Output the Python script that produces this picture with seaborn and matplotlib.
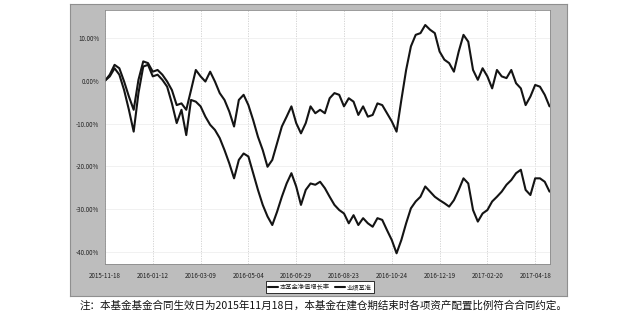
import matplotlib
matplotlib.use("Agg")
import matplotlib.pyplot as plt
from matplotlib.patches import Rectangle
import numpy as np
import pandas as pd
import seaborn as sns

# ---- data (cumulative return, %) ----
fund = [0.0, 1.4, 3.7, 2.9, -0.2, -3.7, -6.8, 0.2, 4.5, 4.1,
        2.1, 2.5, 1.4, -0.2, -2.2, -5.7, -5.3, -6.8, -2.2, 2.5,
        1.0, -0.2, 2.1, -0.2, -2.9, -4.5, -7.2, -10.7, -4.5, -3.3,
        -5.7, -9.2, -13.1, -16.2, -20.1, -18.5, -14.6, -10.7, -8.4, -6.0,
        -9.9, -12.3, -9.9, -6.0, -7.6, -6.8, -7.6, -4.1, -2.9, -3.3,
        -6.0, -4.1, -4.9, -8.0, -6.0, -8.4, -8.0, -5.3, -5.7, -7.6,
        -9.5, -11.9, -4.5, 2.5, 8.0, 10.7, 11.1, 13.0, 11.9, 11.1,
        6.8, 4.9, 4.1, 2.1, 6.8, 10.7, 9.1, 2.5, 0.2, 2.9,
        1.0, -1.8, 2.5, 1.0, 0.6, 2.5, -0.6, -1.8, -5.7, -3.7,
        -1.0, -1.4, -3.3, -6.0]
bench = [0.0, 1.0, 2.9, 1.4, -2.2, -6.8, -11.9, -2.9, 3.3, 3.7,
         1.0, 1.4, 0.2, -1.4, -5.3, -9.9, -6.8, -12.7, -4.5, -4.9,
         -6.0, -8.4, -10.3, -11.5, -13.4, -16.2, -19.3, -22.8, -18.5, -17.0,
         -17.7, -21.6, -25.5, -29.0, -31.7, -33.7, -30.6, -27.1, -24.0, -21.6,
         -24.7, -29.0, -25.5, -24.0, -24.3, -23.6, -25.1, -27.1, -29.0, -30.2,
         -31.0, -33.3, -31.4, -33.7, -32.1, -33.3, -34.1, -32.1, -32.5, -34.9,
         -37.2, -40.3, -37.2, -33.3, -29.8, -28.2, -27.1, -24.7, -25.9, -27.1,
         -27.9, -28.6, -29.4, -27.9, -25.5, -22.8, -24.0, -30.2, -32.9, -31.0,
         -30.2, -28.2, -27.1, -25.9, -24.3, -23.2, -21.6, -20.8, -25.5, -26.7,
         -22.8, -22.8, -23.6, -25.9]
x_tick_labels = ["2015-11-18", "2016-01-12", "2016-03-09", "2016-05-04",
                 "2016-06-29", "2016-08-23", "2016-10-24", "2016-12-19",
                 "2017-02-20", "2017-04-18"]
y_ticks = [10, 0, -10, -20, -30, -40]
series_names = ["本基金净值增长率", "业绩基准"]
caption = "注：本基金基金合同生效日为2015年11月18日，本基金在建仓期结束时各项资产配置比例符合合同约定。"

sns.set_theme(style="white")
plt.rcParams["font.family"] = ["Noto Sans CJK SC", "DejaVu Sans"]

df = pd.DataFrame({"idx": np.arange(len(fund)),
                   series_names[0]: fund,
                   series_names[1]: bench}).melt("idx", var_name="series",
                                                 value_name="value")

W, H = 629, 313
fig = plt.figure(figsize=(W / 100, H / 100), dpi=100)
fig.patch.set_facecolor("white")

# grey panel behind the plot
bg = fig.add_axes([70 / W, 1 - 296 / H, (567 - 70) / W, (296 - 4) / H], zorder=-5)
bg.set_facecolor("#bdbdbd")
bg.set_xticks([])
bg.set_yticks([])
for s in bg.spines.values():
    s.set_color("#8f8f8f")
    s.set_linewidth(0.8)

ax = fig.add_axes([105 / W, 1 - 264 / H, 445 / W, 254 / H], zorder=1)
ax.set_facecolor("white")
sns.lineplot(data=df, x="idx", y="value", hue="series",
             palette=["#141414", "#141414"], linewidth=1.5, ax=ax)

ax.set_xlim(0, 93.1)
ax.set_ylim(-42.8, 16.5)
ax.set_xticks(np.arange(0, 91, 10))
ax.set_xticklabels(x_tick_labels)
ax.set_yticks(y_ticks)
ax.set_yticklabels([f"{v:.2f}%" for v in y_ticks])
ax.tick_params(axis="both", labelsize=4.5, length=2.5, width=0.5,
               colors="#222222", pad=1.5, direction="out")
ax.tick_params(axis="x", pad=3)
ax.set_xlabel("")
ax.set_ylabel("")
ax.grid(axis="x", color="#cfcfcf", linestyle=(0, (1.5, 1.5)), linewidth=0.6)
ax.grid(axis="y", color="#ececec", linestyle="-", linewidth=0.5)
for s in ax.spines.values():
    s.set_color("#8a8a8a")
    s.set_linewidth(0.6)

handles, labels = ax.get_legend_handles_labels()
ax.legend(handles, labels, loc="center", bbox_to_anchor=(320 / W, 1 - 287 / H),
          bbox_transform=fig.transFigure, ncol=2, fontsize=4.5, frameon=True,
          fancybox=False, edgecolor="#111111", framealpha=1, handlelength=1.6,
          handletextpad=0.3, columnspacing=0.8, borderpad=0.35)
ax.get_legend().get_frame().set_linewidth(0.6)

fig.text(80 / W, 1 - 305 / H, caption, fontsize=7.6, va="center", ha="left",
         color="#111111")

fig.savefig("out.png", dpi=100, facecolor="white")
